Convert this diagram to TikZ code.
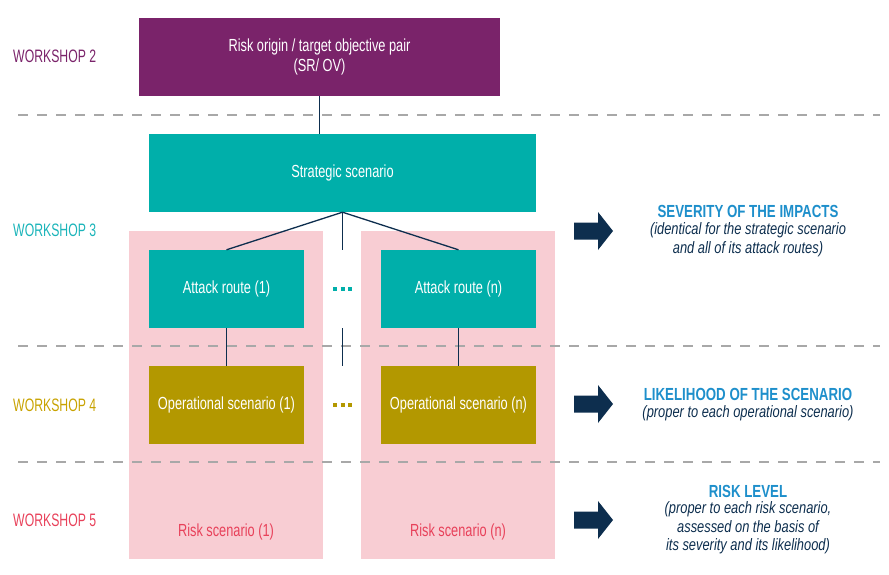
\documentclass[tikz,border=0pt]{standalone}
\usepackage{fontspec}
\setmainfont{Liberation Sans}[FakeStretch=0.68]
\newfontfamily\boxfont{Liberation Sans}[FakeStretch=0.73]
\newfontfamily\ttlfont{Liberation Sans}[FakeStretch=0.76]
\newfontfamily\subfont{Liberation Sans}[FakeStretch=0.78]
\definecolor{cpurple}{RGB}{122,35,106}
\definecolor{cteal}{RGB}{0,175,170}
\definecolor{cteallbl}{RGB}{26,180,185}
\definecolor{colive}{RGB}{179,152,0}
\definecolor{colivelbl}{RGB}{200,162,0}
\definecolor{cpink}{RGB}{248,205,211}
\definecolor{cred}{RGB}{232,65,90}
\definecolor{cnavy}{RGB}{13,46,78}
\definecolor{cblue}{RGB}{30,143,203}
\definecolor{cgray}{RGB}{168,168,168}
\tikzset{
  box/.style={inner sep=0pt, minimum width=155, minimum height=78, text=white, align=center, font=\boxfont\fontsize{17.5}{20}\selectfont},
  widebox/.style={box, minimum width=387},
  pinkbox/.style={fill=cpink, inner sep=0pt, minimum width=194, minimum height=328},
  wslabel/.style={anchor=west, inner sep=0pt, font=\fontsize{18}{20}\selectfont},
  sep/.style={cgray, line width=1.6pt, dash pattern=on 10pt off 9pt},
  link/.style={cnavy, line width=1.3pt},
  ttl/.style={text=cblue, font=\ttlfont\bfseries\fontsize{17.5}{19}\selectfont, inner sep=0pt},
  sub/.style={text=cnavy, font=\subfont\itshape\fontsize{16.5}{18.5}\selectfont, align=center, inner sep=0pt},
  risktxt/.style={text=cred, font=\boxfont\fontsize{17.5}{20}\selectfont, inner sep=0pt},
  dots/.style={line width=3.5pt, dash pattern=on 4pt off 3.5pt},
}
\newcommand\bigarrow[1]{\fill[cnavy] (574,#1-8.5) -- (598,#1-8.5) -- (598,#1-19) -- (613,#1) -- (598,#1+19) -- (598,#1+8.5) -- (574,#1+8.5) -- cycle;}
\begin{document}
\begin{tikzpicture}[x=1pt,y=-1pt]
\useasboundingbox (0,0) rectangle (889,575);
% pink risk scenario zones
\node[pinkbox] (rs1) at (226,394.5) {};
\node[pinkbox] (rsn) at (458,394.5) {};
% separators
\draw[sep] (18,115) -- (880,115);
\draw[sep] (18,346) -- (880,346);
\draw[sep] (18,462) -- (880,462);
% workshop labels
\node[wslabel, text=cpurple] (w2) at (13,56) {WORKSHOP 2};
\node[wslabel, text=cteallbl] (w3) at (13,230) {WORKSHOP 3};
\node[wslabel, text=colivelbl] (w4) at (13,405) {WORKSHOP 4};
\node[wslabel, text=cred] (w5) at (13,520) {WORKSHOP 5};
% main boxes
\node[widebox, fill=cpurple, minimum width=361] (pair) at (319.5,57) {Risk origin / target objective pair\\(SR/ OV)};
\node[widebox, fill=cteal] (strat) at (342.5,173) {Strategic scenario};
\node[box, fill=cteal] (ar1) at (226.5,289) {Attack route (1)};
\node[box, fill=cteal] (arn) at (458.5,289) {Attack route (n)};
\node[box, fill=colive] (op1) at (226.5,405) {Operational scenario (1)};
\node[box, fill=colive] (opn) at (458.5,405) {Operational scenario (n)};
\node[risktxt] (rt1) at (226,532) {Risk scenario (1)};
\node[risktxt] (rtn) at (458,532) {Risk scenario (n)};
% connectors
\coordinate (m1) at (342.5,250);
\coordinate (m2) at (342.5,328);
\coordinate (m3) at (342.5,366);
\draw[link] (pair.south) -- (pair.south |- strat.north);
\draw[link] (strat.south) -- (ar1.north);
\draw[link] (strat.south) -- (arn.north);
\draw[link] (strat.south) -- (m1);
\draw[link] (m2) -- (m3);
\draw[link] (ar1.south) -- (op1.north);
\draw[link] (arn.south) -- (opn.north);
% ellipses
\draw[dots, cteal] (333,289) -- (353,289);
\draw[dots, colive] (333,405) -- (353,405);
% arrows
\bigarrow{231}
\bigarrow{404}
\bigarrow{520}
% right texts
\node[ttl] (t1) at (748,211) {SEVERITY OF THE IMPACTS};
\node[sub, anchor=north] (s1) at (748,222.5) {(identical for the strategic scenario\\and all of its attack routes)};
\node[ttl] (t2) at (748,394) {LIKELIHOOD OF THE SCENARIO};
\node[sub, anchor=north] (s2) at (748,405.5) {(proper to each operational scenario)};
\node[ttl] (t3) at (748,491) {RISK LEVEL};
\node[sub, anchor=north] (s3) at (748,501.5) {(proper to each risk scenario,\\assessed on the basis of\\its severity and its likelihood)};
\end{tikzpicture}
\end{document}
